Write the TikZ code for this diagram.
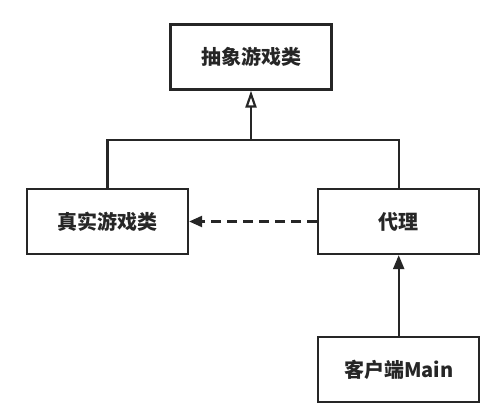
\documentclass[tikz,border=0pt]{standalone}
\usepackage{fontspec}
\newfontfamily\cjk{Noto Sans CJK SC}
\usetikzlibrary{positioning, arrows.meta}
\tikzstyle{cls} = [rectangle, minimum width=161pt, minimum height=65pt, inner sep=0pt, text centered, draw=black!85, line width=2.2pt, font=\cjk\bfseries\fontsize{20}{24}\selectfont, text=black!85]
\tikzstyle{line} = [draw=black!85, line width=2.2pt]
\tikzstyle{inherit} = [line, -{Triangle[open, length=17pt, width=11pt, line width=2.2pt]}]
\tikzstyle{dep} = [line, dash pattern=on 10pt off 6pt, -{Triangle[length=13pt, width=11pt]}]
\tikzstyle{assoc} = [line, -{Triangle[length=14pt, width=11pt]}]

\begin{document}
\begin{tikzpicture}
	\useasboundingbox (0,0) rectangle (496pt,-405pt);
	\node (abs) [cls] at (251pt,-57pt) {抽象游戏类};
	\node (real) [cls] at (107.5pt,-221.5pt) {真实游戏类};
	\node (proxy) [cls, right=128pt of real] {代理};
	\node (client) [cls, below=81pt of proxy] {客户端Main};
	\coordinate (join) at (251pt,-140pt);
	\draw [line] (real.north) |- (join) -| (proxy.north);
	\draw [inherit] (join) -- (abs.south);
	\draw [dep] (proxy.west) -- (real.east);
	\draw [assoc] (client.north) -- (proxy.south);
\end{tikzpicture}
\end{document}
